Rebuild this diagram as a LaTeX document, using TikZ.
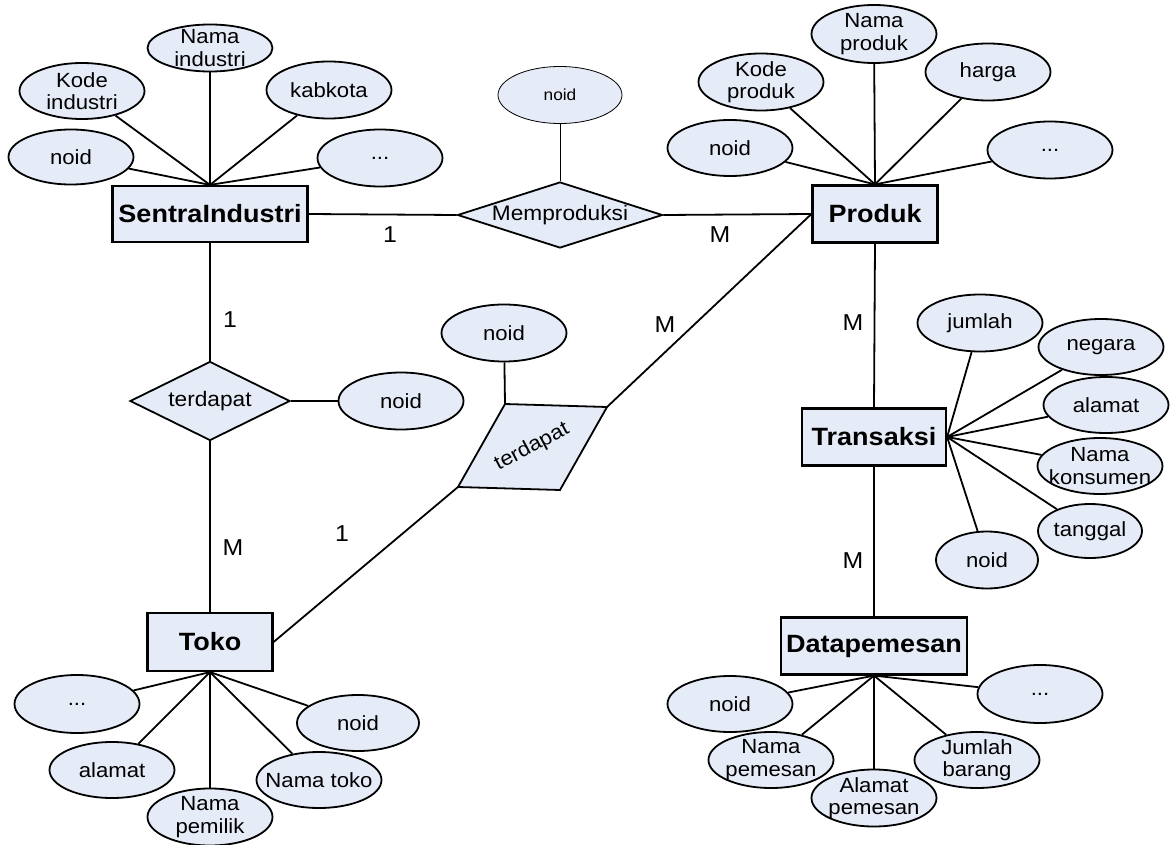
\documentclass[tikz,border=0pt]{standalone}
\usepackage{fontspec}
\setmainfont{Liberation Sans}[FakeStretch=1.08]
\usetikzlibrary{shapes.geometric}
\definecolor{fillc}{RGB}{229,235,247}
\begin{document}
\begin{tikzpicture}[x=1pt,y=-1pt,
 ent/.style={draw, line width=2.2pt, fill=fillc, inner sep=0pt, minimum width=125pt, minimum height=57pt, font=\fontsize{25}{28}\selectfont\bfseries},
 attr/.style={ellipse, draw, line width=1.8pt, fill=fillc, inner sep=0pt, minimum width=125pt, minimum height=57pt},
 txt/.style={align=center, inner sep=0pt, font=\fontsize{20.5}{22.5}\selectfont},
 rel/.style={diamond, draw, line width=1.8pt, fill=fillc, inner sep=0pt, font=\fontsize{21}{23}\selectfont},
 conn/.style={line width=1.8pt},
 card/.style={font=\fontsize{23}{25}\selectfont, inner sep=0pt},
]
\useasboundingbox (0,0) rectangle (1173,845);

% entities
\node[ent, minimum width=195pt, minimum height=56pt] (si) at (210,214) {SentraIndustri};
\node[ent] (pr) at (875,214) {Produk};
\node[ent, minimum height=58pt] (tk) at (210,642) {Toko};
\node[ent, minimum width=144pt] (tr) at (874,437) {Transaksi};
\node[ent, minimum width=186pt] (dp) at (874,646) {Datapemesan};

% relationships
\node[rel, aspect=3.1, minimum width=205pt, minimum height=66pt] (mp) at (560,215) {Memproduksi};
\node[rel, aspect=2, minimum width=160pt, minimum height=79pt] (td1) at (210,401) {terdapat};
\coordinate (pTL) at (505,404);
\coordinate (pTR) at (607,407);
\coordinate (pBR) at (560,490);
\coordinate (pBL) at (458,487);
\draw[conn, fill=fillc] (pTL) -- (pTR) -- (pBR) -- (pBL) -- cycle;
\node[txt, rotate=28] (td2) at (532,447) {terdapat};

% attributes of SentraIndustri
\node[attr, minimum height=47pt, label={[txt]center:{Nama\\industri}}] (si1) at (210,48) {};
\node[attr, minimum height=56pt, label={[txt]center:{Kode\\industri}}] (si2) at (82,91) {};
\node[attr, label={[txt]center:kabkota}] (si3) at (329,90) {};
\node[attr, minimum height=55pt, label={[txt]center:noid}] (si4) at (71,157) {};
\node[attr, label={[txt]center:...}] (si5) at (380,158) {};
\foreach \a in {si1,si2,si3,si4,si5} \draw[conn] (si.north) -- (\a);

% attribute of Memproduksi
\node[ellipse, draw, line width=0.8pt, fill=fillc, inner sep=0pt, minimum width=124pt, minimum height=57pt, label={[txt, font=\fontsize{16}{18}\selectfont]center:noid}] (mpa) at (560,95) {};
\draw[line width=0.8pt] (mpa) -- (mp.north);

% attributes of Produk
\node[attr, minimum height=58pt, label={[txt]center:{Nama\\produk}}] (pr1) at (874,34) {};
\node[attr, label={[txt]center:{Kode\\produk}}] (pr2) at (761,82) {};
\node[attr, label={[txt]center:harga}] (pr3) at (988,72) {};
\node[attr, minimum height=56pt, label={[txt]center:noid}] (pr4) at (730,148) {};
\node[attr, label={[txt]center:...}] (pr5) at (1050,150) {};
\foreach \a in {pr1,pr2,pr3,pr4,pr5} \draw[conn] (pr.north) -- (\a);

% attributes of terdapat
\node[attr, label={[txt]center:noid}] (td1a) at (401,401) {};
\draw[conn] (td1.east) -- (td1a);
\node[attr, label={[txt]center:noid}] (td2a) at (504,333) {};
\draw[conn] (td2a) -- (pTL);

% attributes of Toko
\node[attr, minimum height=58pt, label={[txt]center:...}] (tk1) at (77,704) {};
\node[attr, minimum height=56pt, label={[txt]center:alamat}] (tk2) at (112,770) {};
\node[attr, label={[txt]center:{Nama\\pemilik}}] (tk3) at (210,817) {};
\node[attr, minimum height=56pt, label={[txt]center:{Nama toko}}] (tk4) at (319,780) {};
\node[attr, minimum width=122pt, minimum height=56pt, label={[txt]center:noid}] (tk5) at (358,723) {};
\foreach \a in {tk1,tk2,tk3,tk4,tk5} \draw[conn] (tk.south) -- (\a);

% attributes of Transaksi
\node[attr, label={[txt]center:jumlah}] (tr1) at (980,323) {};
\node[attr, minimum height=56pt, label={[txt]center:negara}] (tr2) at (1101,347) {};
\node[attr, minimum height=56pt, label={[txt]center:alamat}] (tr3) at (1106,405) {};
\node[attr, minimum height=56pt, label={[txt]center:{Nama\\konsumen}}] (tr4) at (1100,466) {};
\node[attr, minimum width=104pt, minimum height=54pt, label={[txt]center:tanggal}] (tr5) at (1090,531) {};
\node[attr, minimum width=102pt, label={[txt]center:noid}] (tr6) at (987,560) {};
\foreach \a in {tr1,tr2,tr3,tr4,tr5,tr6} \draw[conn] (tr.east) -- (\a);

% attributes of Datapemesan
\node[attr, minimum height=56pt, label={[txt]center:noid}] (dp1) at (730,704) {};
\node[attr, minimum height=56pt, label={[txt]center:{Nama\\pemesan}}] (dp2) at (771,760) {};
\node[attr, label={[txt]center:{Alamat\\pemesan}}] (dp3) at (874,798) {};
\node[attr, minimum height=56pt, label={[txt]center:{Jumlah\\barang}}] (dp4) at (977,760) {};
\node[attr, minimum height=58pt, label={[txt]center:...}] (dp5) at (1040,694) {};
\foreach \a in {dp1,dp2,dp3,dp4,dp5} \draw[conn] (dp.south) -- (\a);

% relationship connectors
\draw[conn] (si.east) -- (mp.west);
\draw[conn] (mp.east) -- (pr.west);
\draw[conn] (si.south) -- (td1.north);
\draw[conn] (td1.south) -- (tk.north);
\draw[conn] (pr.west) -- (pTR);
\draw[conn] (tk.east) -- (pBL);
\draw[conn] (pr.south) -- (tr.north);
\draw[conn] (tr.south) -- (dp.north);

% cardinalities
\node[card] (c1) at (390,235) {1};
\node[card] (c2) at (720,235) {M};
\node[card] (c3) at (230,320) {1};
\node[card] (c4) at (233,548) {M};
\node[card] (c5) at (342,534) {1};
\node[card] (c6) at (665,325) {M};
\node[card] (c7) at (853,323) {M};
\node[card] (c8) at (853,561) {M};
\end{tikzpicture}
\end{document}
